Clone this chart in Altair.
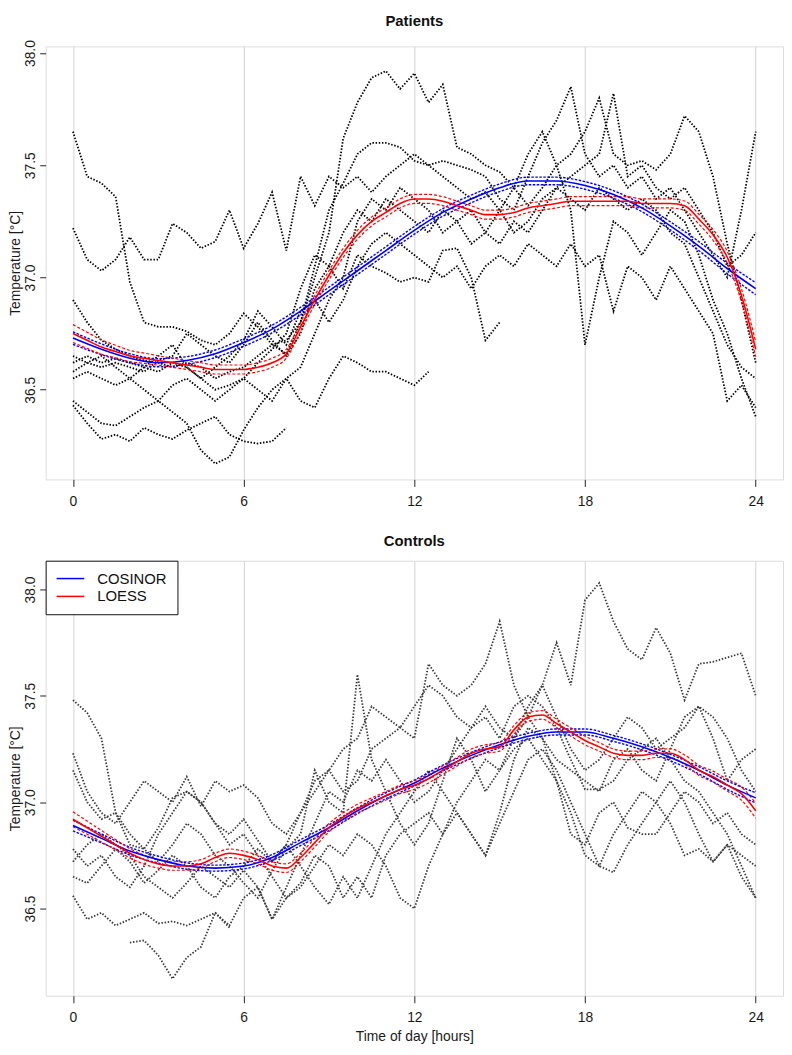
import altair as alt
import pandas as pd

STEP = 0.5            # spacing (hours) of the values
X_TICKS = [0, 6, 12, 18, 24]
Y_TICKS = [36.5, 37.0, 37.5, 38.0]

# ---------------- Patients: individual temperature traces (°C), every 0.5 h ----------------
pat_A = [37.65, 37.45, 37.42, 37.36, 36.98, 36.80, 36.78, 36.78, 36.76, 36.72,
         36.70, 36.75, 36.84, 36.78, 36.70, 36.66, 36.80, 37.05, 37.30, 37.42,
         37.55, 37.60, 37.60, 37.58, 37.52, 37.50, 37.52, 37.50, 37.48, 37.45,
         37.35, 37.30, 37.45, 37.60, 37.70, 37.85, 37.55, 37.45, 37.50, 37.40,
         37.45, 37.35, 37.40, 37.30, 37.20, 37.10, 37.00, 37.30, 37.65]
pat_B = [37.22, 37.08, 37.03, 37.08, 37.18, 37.08, 37.08, 37.24, 37.20, 37.13,
         37.16, 37.30, 37.13, 37.24, 37.38, 37.12, 37.45, 37.32, 37.45, 37.40,
         37.45, 37.38, 37.45, 37.50, 37.55, 37.50, 37.45, 37.40, 37.35, 37.38,
         37.30, 37.20, 37.25, 37.35, 37.40, 37.45, 37.50, 37.55, 37.82, 37.45,
         37.50, 37.40, 37.35, 37.40, 37.30, 37.20, 37.05, 37.10, 37.20]
pat_C = [36.90, 36.80, 36.72, 36.68, 36.65, 36.63, 36.62, 36.60, 36.62, 36.60,
         36.55, 36.58, 36.60, 36.65, 36.70, 36.72, 36.80, 37.00, 37.20, 37.62,
         37.78, 37.89, 37.92, 37.84, 37.91, 37.78, 37.86, 37.58, 37.55, 37.50,
         37.47, 37.40, 37.32, 37.40, 37.50, 37.55, 37.65, 37.80, 37.55, 37.50,
         37.52, 37.48, 37.55, 37.72, 37.65, 37.45, 37.15, 36.90, 36.62]
pat_D = [36.65, 36.62, 36.60, 36.62, 36.60, 36.58, 36.63, 36.65, 36.75, 36.70,
         36.65, 36.62, 36.70, 36.80, 36.72, 36.65, 36.75, 36.95, 37.05, 36.95,
         37.10, 37.05, 37.02, 36.98, 37.00, 36.98, 37.12, 37.13, 37.00, 36.72,
         36.80]
pat_E = [36.55, 36.58, 36.55, 36.52, 36.55, 36.50, 36.45, 36.52, 36.55, 36.50,
         36.45, 36.50, 36.55, 36.50, 36.45, 36.55, 36.45, 36.42, 36.55, 36.65,
         36.62, 36.58, 36.58, 36.55, 36.52, 36.58]
pat_F = [36.45, 36.40, 36.35, 36.34, 36.38, 36.42, 36.45, 36.40, 36.35, 36.23,
         36.17, 36.20, 36.32, 36.42, 36.50, 36.55, 36.60, 36.75, 36.90, 37.00,
         37.25, 37.35, 37.30, 37.40, 37.35, 37.30, 37.20, 37.25, 37.30, 37.20,
         37.15, 37.25, 37.20, 37.30, 37.40, 37.35, 37.30, 37.40, 37.35, 37.30,
         37.35, 37.30, 37.20, 37.15, 37.00, 36.85, 36.70, 36.60, 36.55]
pat_G = [36.43, 36.35, 36.28, 36.30, 36.27, 36.33, 36.30, 36.28, 36.32, 36.35,
         36.38, 36.30, 36.27, 36.26, 36.27, 36.33]
pat_H = [36.62, 36.65, 36.62, 36.64, 36.62, 36.60, 36.58, 36.62, 36.60, 36.55,
         36.50, 36.52, 36.55, 36.62, 36.68, 36.75, 36.95, 37.10, 37.05, 37.20,
         37.30, 37.25, 37.35, 37.30, 37.25, 37.20, 37.30, 37.25, 37.15, 37.20,
         37.30, 37.40, 37.55, 37.65, 37.50, 37.30, 36.70, 37.00, 37.25, 37.20,
         37.10, 37.20, 37.30, 37.25, 37.10, 36.90, 36.75, 36.55, 36.38]
pat_I = [36.58, 36.62, 36.65, 36.60, 36.55, 36.60, 36.65, 36.70, 36.60, 36.55,
         36.60, 36.65, 36.72, 36.85, 36.78, 36.70, 36.85, 36.90, 36.80, 36.90,
         37.05, 37.15, 37.20, 37.15, 37.10, 37.05, 37.00, 37.05, 36.95, 37.05,
         37.10, 37.05, 37.15, 37.10, 37.05, 37.15, 37.05, 37.10, 36.85, 37.05,
         37.00, 36.90, 37.05, 36.95, 36.85, 36.75, 36.45, 36.52, 36.42]

# ---------------- Controls: individual temperature traces (°C), every 0.5 h ----------------
ctl_A = [37.48, 37.42, 37.30, 36.95, 36.80, 36.78, 36.88, 37.02, 37.05, 37.00,
         36.90, 36.85, 36.92, 36.82, 36.72, 36.80, 36.95, 37.10, 37.15, 37.25,
         37.30, 37.45, 37.40, 37.35, 37.45, 37.55, 37.50, 37.40, 37.35, 37.45,
         37.35, 37.30, 37.40, 37.55, 37.75, 37.55, 37.95, 38.03, 37.85, 37.72,
         37.67, 37.82, 37.70, 37.48, 37.65, 37.66, 37.68, 37.70, 37.50]
ctl_B = [37.23, 37.05, 36.95, 36.90, 37.00, 37.10, 37.05, 37.00, 37.12, 36.98,
         37.10, 37.05, 37.08, 37.02, 36.90, 36.85, 36.95, 37.05, 37.15, 37.05,
         37.10, 37.25, 37.30, 37.35, 37.30, 37.65, 37.55, 37.50, 37.55, 37.65,
         37.85, 37.55, 37.40, 37.30, 37.20, 37.15, 37.10, 37.05, 37.20, 37.25,
         37.15, 37.10, 37.25, 37.40, 37.45, 37.30, 37.10, 37.20, 37.25]
ctl_C = [36.78, 36.70, 36.75, 36.65, 36.60, 36.70, 36.85, 36.95, 37.05, 37.00,
         36.90, 36.80, 36.85, 36.75, 36.65, 36.55, 36.60, 36.70, 36.80, 36.75,
         36.85, 36.80, 36.70, 36.55, 36.50, 36.70, 36.85, 36.95, 36.85, 36.75,
         36.95, 37.20, 37.35, 37.30, 37.10, 36.85, 36.80, 36.95, 37.00, 36.88,
         36.85, 36.85, 36.95, 37.05, 37.00, 36.90, 36.95, 36.85, 36.80]
ctl_D = [36.72, 36.80, 36.85, 36.80, 36.75, 36.65, 36.60, 36.55, 36.62, 36.70,
         36.65, 36.60, 36.68, 36.60, 36.45, 36.60, 36.75, 36.90, 37.05, 37.00,
         37.15, 37.10, 37.20, 37.10, 37.00, 37.05, 37.15, 37.25, 37.35, 37.40,
         37.30, 37.45, 37.50, 37.45, 37.35, 37.20, 37.06, 37.06, 37.10, 37.20,
         37.25, 37.30, 37.20, 37.10, 37.05, 36.95, 36.85, 36.70, 36.55]
ctl_E = [36.34, 36.35, 36.28, 36.17, 36.27, 36.32, 36.48, 36.41]   # 2.0 h .. 5.5 h
ctl_F = [36.56, 36.45, 36.48, 36.42, 36.45, 36.48, 36.43, 36.44, 36.42, 36.45,
         36.48, 36.42, 36.55, 36.60, 36.45, 36.55, 36.62, 36.75, 36.70, 36.55,
         36.65, 36.55, 36.75, 36.85, 36.90, 36.95, 36.85, 37.00, 37.10, 37.20,
         37.15, 37.25, 37.30, 37.20, 37.10, 36.95, 36.75, 36.70, 36.85, 36.95,
         37.05, 37.00, 36.90, 36.75, 36.78, 36.72, 36.80, 36.75, 36.70]
ctl_G = [37.15, 37.00, 36.92, 36.95, 36.85, 36.78, 36.72, 36.80, 36.90, 36.85,
         36.75, 36.70, 36.62, 36.55, 36.68, 36.78, 36.85, 37.15, 37.00, 36.95,
         37.60, 37.20, 37.05, 36.90, 36.80, 36.90, 37.10, 37.30, 37.20, 37.05,
         37.15, 37.30, 37.45, 37.55, 37.40, 37.25, 37.15, 37.20, 37.30, 37.40,
         37.35, 37.25, 37.30, 37.35, 37.45, 37.40, 37.30, 37.15, 37.05]
ctl_H = [36.65, 36.62, 36.70, 36.78, 36.72, 36.62, 36.68, 36.75, 36.70, 36.60,
         36.55, 36.65, 36.70, 36.78, 36.72, 36.80, 36.70, 36.60, 36.52, 36.65,
         36.55, 36.70, 36.85, 36.95, 37.05, 37.15, 37.05, 36.95, 36.85, 36.75,
         36.90, 37.05, 37.20, 37.25, 37.15, 37.00, 36.85, 36.70, 36.67, 36.80,
         36.90, 37.00, 37.10, 37.00, 36.85, 36.72, 36.80, 36.65, 36.55]

# ---------------- Fits ----------------
# COSINOR: hourly (0..24 h); LOESS: every 0.5 h; half-widths of the confidence bands
pat_cos = [36.73, 36.68, 36.64, 36.62, 36.63, 36.66, 36.71, 36.77, 36.85, 36.94,
           37.03, 37.12, 37.21, 37.29, 37.35, 37.40, 37.43, 37.43, 37.41, 37.37,
           37.31, 37.23, 37.14, 37.04, 36.95]
pat_cos_half = [0.028, 0.024, 0.020, 0.018, 0.017, 0.017, 0.017, 0.017, 0.017, 0.017,
                0.017, 0.017, 0.017, 0.017, 0.017, 0.017, 0.017, 0.017, 0.017, 0.017,
                0.017, 0.018, 0.020, 0.023, 0.027]
pat_loess = [36.75, 36.72, 36.69, 36.67, 36.65, 36.64, 36.63, 36.62, 36.61, 36.60,
             36.59, 36.59, 36.59, 36.60, 36.62, 36.66, 36.78, 36.90, 37.01, 37.11,
             37.19, 37.25, 37.29, 37.33, 37.35, 37.35, 37.34, 37.32, 37.30, 37.28,
             37.28, 37.29, 37.31, 37.32, 37.33, 37.34, 37.34, 37.34, 37.34, 37.34,
             37.33, 37.33, 37.33, 37.32, 37.26, 37.19, 37.09, 36.92, 36.68]
pat_loess_half = [0.040, 0.036, 0.032, 0.028, 0.025, 0.023, 0.021, 0.020, 0.020, 0.020,
                  0.020, 0.020, 0.020, 0.020, 0.020, 0.020, 0.020, 0.020, 0.020, 0.020,
                  0.020, 0.020, 0.020, 0.020, 0.020, 0.020, 0.020, 0.020, 0.020, 0.020,
                  0.020, 0.020, 0.020, 0.020, 0.020, 0.020, 0.020, 0.020, 0.020, 0.020,
                  0.020, 0.020, 0.020, 0.021, 0.022, 0.024, 0.026, 0.029, 0.033]

ctl_cos = [36.89, 36.83, 36.77, 36.73, 36.70, 36.69, 36.70, 36.74, 36.81, 36.88,
           36.96, 37.03, 37.09, 37.16, 37.22, 37.27, 37.31, 37.33, 37.33, 37.30,
           37.26, 37.21, 37.15, 37.08, 37.02]
ctl_cos_half = [0.025, 0.021, 0.018, 0.016, 0.015, 0.014, 0.014, 0.014, 0.014, 0.014,
                0.014, 0.014, 0.014, 0.014, 0.014, 0.014, 0.014, 0.014, 0.014, 0.014,
                0.014, 0.015, 0.017, 0.020, 0.024]
ctl_loess = [36.92, 36.88, 36.84, 36.80, 36.76, 36.73, 36.71, 36.70, 36.70, 36.71,
             36.74, 36.76, 36.75, 36.73, 36.70, 36.69, 36.74, 36.81, 36.88, 36.93,
             36.97, 37.00, 37.03, 37.06, 37.08, 37.11, 37.15, 37.19, 37.23, 37.25,
             37.26, 37.34, 37.40, 37.41, 37.37, 37.33, 37.29, 37.26, 37.23, 37.22,
             37.22, 37.23, 37.23, 37.20, 37.15, 37.12, 37.08, 37.04, 36.96]
ctl_loess_half = [0.035, 0.031, 0.027, 0.024, 0.022, 0.021, 0.020, 0.020, 0.020, 0.020,
                  0.020, 0.020, 0.020, 0.020, 0.020, 0.020, 0.020, 0.020, 0.020, 0.020,
                  0.020, 0.020, 0.020, 0.020, 0.020, 0.020, 0.020, 0.020, 0.020, 0.020,
                  0.020, 0.020, 0.020, 0.020, 0.020, 0.020, 0.020, 0.020, 0.020, 0.020,
                  0.020, 0.020, 0.021, 0.022, 0.024, 0.026, 0.028, 0.031, 0.035]

patients_traces = [("A", 0.0, pat_A), ("B", 0.0, pat_B), ("C", 0.0, pat_C),
                   ("D", 0.0, pat_D), ("E", 0.0, pat_E), ("F", 0.0, pat_F),
                   ("G", 0.0, pat_G), ("H", 0.0, pat_H), ("I", 0.0, pat_I)]
controls_traces = [("A", 0.0, ctl_A), ("B", 0.0, ctl_B), ("C", 0.0, ctl_C),
                   ("D", 0.0, ctl_D), ("E", 2.0, ctl_E), ("F", 0.0, ctl_F),
                   ("G", 0.0, ctl_G), ("H", 0.0, ctl_H)]

FONT = "Liberation Sans"
INK = "#1a1a1a"


def trace_df(traces):
    rows = []
    for name, start, vals in traces:
        for i, v in enumerate(vals):
            rows.append({"hour": start + STEP * i, "temp": v, "subject": name})
    return pd.DataFrame(rows)


def fit_df(fit, half, step, series):
    rows = []
    for i, (f, h) in enumerate(zip(fit, half)):
        hr = i * step
        rows.append({"hour": hr, "temp": f, "kind": "fit", "series": series})
        rows.append({"hour": hr, "temp": round(f - h, 4), "kind": "lo", "series": series})
        rows.append({"hour": hr, "temp": round(f + h, 4), "kind": "hi", "series": series})
    return pd.DataFrame(rows)


def panel(title, traces, trace_color, cos, cos_half, loe, loe_half, ydom, height,
          with_legend, xtitle):
    x_axis = alt.Axis(values=X_TICKS, format="d", grid=True, gridColor="#d2d2d2",
                      gridWidth=1, domain=False, tickSize=7, tickColor="#222222",
                      labelFontSize=14, labelColor=INK, labelPadding=8,
                      labelFont=FONT, title=xtitle, titleFontSize=14,
                      titleFontWeight="normal", titleColor=INK, titlePadding=5,
                      titleFont=FONT)
    y_axis = alt.Axis(values=Y_TICKS, format=".1f", grid=False, domain=False,
                      tickSize=6, tickColor="#222222", labelAngle=-90,
                      labelAlign="center", labelBaseline="bottom", labelPadding=2,
                      labelFontSize=14, labelColor=INK, labelFont=FONT,
                      title="Temperature [°C]", titleFontSize=14,
                      titleFontWeight="normal", titleColor=INK, titlePadding=1,
                      titleFont=FONT)
    x = alt.X("hour:Q", scale=alt.Scale(domain=[-0.96, 24.96], nice=False, zero=False),
              axis=x_axis)
    y = alt.Y("temp:Q", scale=alt.Scale(domain=ydom, nice=False, zero=False),
              axis=y_axis)

    tdf = trace_df(traces)
    cdf = fit_df(cos, cos_half, 1.0, "COSINOR")
    ldf = fit_df(loe, loe_half, 0.5, "LOESS")

    raw = alt.Chart(tdf).mark_line(color=trace_color, strokeWidth=1.8,
                                   strokeDash=[1.5, 1.7], clip=True).encode(
        x=x, y=y, detail="subject:N")

    cos_ci = alt.Chart(cdf[cdf.kind != "fit"]).mark_line(
        color="#0000ff", strokeWidth=1.4, strokeDash=[2.5, 1.5], interpolate="monotone",
        clip=True).encode(x=x, y=y, detail="kind:N")
    loe_ci = alt.Chart(ldf[ldf.kind != "fit"]).mark_line(
        color="#ff0000", strokeWidth=1.2, strokeDash=[3, 2], interpolate="monotone",
        clip=True).encode(x=x, y=y, detail="kind:N")

    fits = pd.concat([cdf[cdf.kind == "fit"], ldf[ldf.kind == "fit"]])
    if with_legend:
        color = alt.Color("series:N",
                          scale=alt.Scale(domain=["COSINOR", "LOESS"],
                                          range=["#0000ff", "#ff0000"]),
                          legend=alt.Legend(title=None, orient="top-left", offset=0,
                                            strokeColor="#111111", fillColor="white",
                                            padding=10, symbolType="M-2,0L2,0",
                                            symbolSize=196, symbolStrokeWidth=1.5,
                                            symbolOffset=7,
                                            labelFontSize=15, labelFont=FONT,
                                            labelColor="#111111", labelOffset=19,
                                            rowPadding=2))
    else:
        color = alt.Color("series:N",
                          scale=alt.Scale(domain=["COSINOR", "LOESS"],
                                          range=["#0000ff", "#ff0000"]),
                          legend=None)
    centre = alt.Chart(fits).mark_line(strokeWidth=1.6, interpolate="monotone",
                                       clip=True).encode(
        x=x, y=y, color=color, detail="series:N")

    return alt.layer(raw, cos_ci, loe_ci, centre).properties(
        width=744, height=height,
        title=alt.TitleParams(text=title, fontSize=15, fontWeight="bold",
                              anchor="middle", frame="group", offset=11,
                              color="#111111", font=FONT))


top = panel("Patients", patients_traces, "#000000", pat_cos, pat_cos_half,
            pat_loess, pat_loess_half, [36.10, 38.03], 437, False, None)
bottom = panel("Controls", controls_traces, "#3a3a3a", ctl_cos, ctl_cos_half,
               ctl_loess, ctl_loess_half, [36.09, 38.135], 439, True,
               "Time of day [hours]")

chart = alt.vconcat(top, bottom, spacing=25).resolve_scale(
    color="independent").resolve_legend(color="independent").properties(
    padding={"left": 0, "right": 0, "top": 0, "bottom": 0}
).configure_view(stroke="#222222", strokeWidth=1.2).configure(font=FONT)

chart.save("out.html", embed_options={"renderer": "svg", "actions": False})
